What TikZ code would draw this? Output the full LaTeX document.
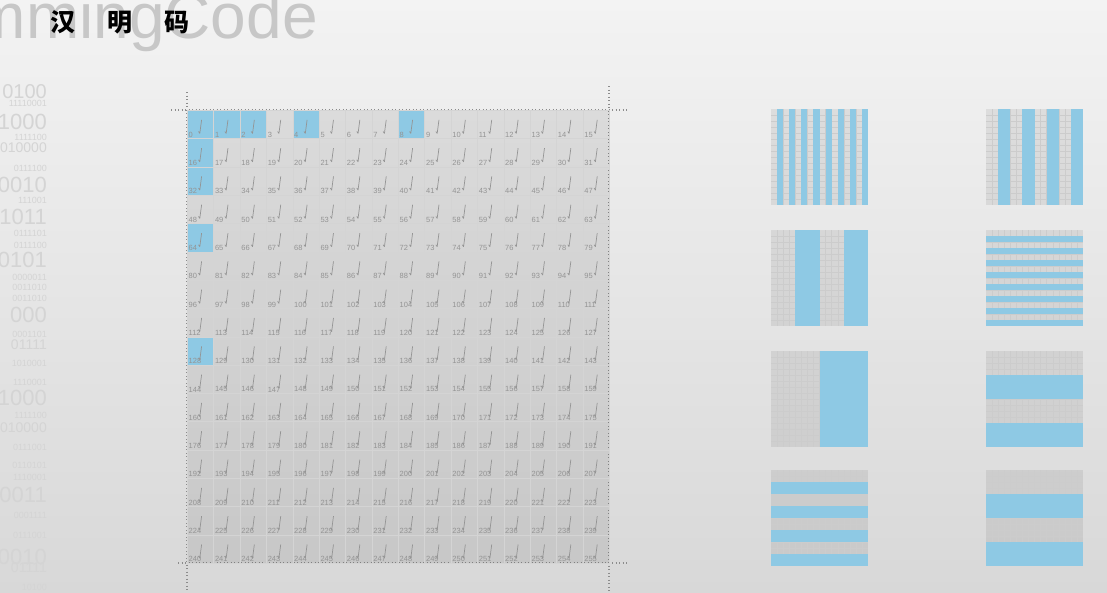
\documentclass[tikz,border=0pt]{standalone}
\usepackage{fontspec}
\setmainfont{Liberation Sans}
\newfontfamily\cjk{Noto Sans CJK SC}
\definecolor{hblue}{RGB}{142,201,228}
\definecolor{paperhi}{RGB}{243,243,243}
\definecolor{paperlo}{RGB}{216,216,216}
\tikzset{
  cellbox/.style={
    draw=black!17,
    fill=black,
    fill opacity=0.08,
    minimum width=26.375pt,
    minimum height=28.31pt,
    inner sep=0pt,
    line width=0.6pt
  },
  bitcell/.style={
    fill=hblue,
    fill opacity=1
  },
  cellnum/.style={
    anchor=south west,
    inner sep=1.5pt,
    text=black!42,
    font=\fontsize{7.5}{8}\selectfont
  },
  tickmark/.style={
    draw=black!42,
    line width=0.7pt,
    line join=round
  },
  cropline/.style={
    draw=black!45,
    line width=1.3pt,
    dash pattern=on 1.3pt off 2.2pt
  },
  panelgrid/.style={
    draw=black!20,
    line width=0.3pt
  },
  bitstr/.style={
    anchor=east,
    inner sep=0pt,
    text=black!17
  }
}

\begin{document}
\begin{tikzpicture}[x=1pt,y=-1pt]
  \useasboundingbox (0,0) rectangle (1107,592);
  \shade[top color=paperhi,bottom color=paperlo] (0,0) rectangle (1107,592);

  % title and faded background word
  \begin{scope}
    \clip (0,0) rectangle (1107,592);
    \node[font=\fontsize{64}{64}\selectfont,text=black!22,anchor=base east,inner sep=0pt]
      (bgword) at (318,38) {HammingCode};
    % faded bit strings along the left edge
    \foreach \y/\s/\t in {92/20/0100, 103/9/11110001, 122/22/1000, 137/9/1111100,
        148/14/010000, 168/9/0111100, 185/22/0010, 200/9/111001, 217/22/1011,
        233/9/0111101, 245/9/0111100, 260/22/00101, 277/9/0000011, 287/9/0011010,
        298/9/0011010, 315/22/000, 334/9/0001101, 345/14/01111, 363/9/1010001,
        382/9/1110001, 398/22/1000, 415/9/1111100, 428/14/010000, 447/9/0111001,
        465/9/0110101, 477/9/1110001, 495/22/0011, 515/9/0001111, 535/9/0111001,
        557/22/0010, 568/14/01111, 587/9/10100}
      \node[bitstr,font=\fontsize{\s}{\s}\selectfont] (b\y) at (47,\y) {\t};
  \end{scope}
  \node[font=\cjk\bfseries\fontsize{25}{25}\selectfont,anchor=west,inner sep=0pt]
    (title) at (50,22) {汉\hspace{32pt}明\hspace{32pt}码};

  % crop marks round the grid
  \draw[cropline] (187,92) -- (187,592);
  \draw[cropline] (609,86) -- (609,592);
  \draw[cropline] (171,110) -- (627,110);
  \draw[cropline] (178,563) -- (627,563);

  % 16 x 16 block, parity positions in blue
  \foreach \r in {0,...,15}{
    \foreach \c in {0,...,15}{
      \pgfmathtruncatemacro\n{16*\r+\c}
      \pgfmathtruncatemacro\isbit{(\n==0)||(\n==1)||(\n==2)||(\n==4)||(\n==8)||(\n==16)||(\n==32)||(\n==64)||(\n==128)}
      \pgfmathsetmacro\cx{187+\c*26.375}
      \pgfmathsetmacro\cy{110+\r*28.3125}
      \ifnum\isbit=1 \tikzset{cellstate/.style={bitcell}}\else\tikzset{cellstate/.style={}}\fi
      \node[cellbox,cellstate,anchor=north west] (c\n) at (\cx,\cy) {};
      \node[cellnum] (n\n) at (c\n.south west) {\n};
      \draw[tickmark] (\cx+11.5,\cy+21.5) -- (\cx+12.8,\cy+23.4) -- (\cx+14.6,\cy+9.8);
    }
  }

  % parity check patterns
  \foreach \px/\py/\dir/\b in {771/109/v/1, 986/109/v/2, 771/230/v/4, 986/230/h/1,
      771/351/v/8, 986/351/h/4, 771/470/h/2, 986/470/h/4}{
    \fill[black,opacity=0.07] (\px,\py) rectangle ++(97,96);
    \foreach \k in {1,...,15}{
      \draw[panelgrid] (\px+\k*6.0625,\py) -- ++(0,96);
      \draw[panelgrid] (\px,\py+\k*6) -- ++(97,0);
    }
    \foreach \k in {0,...,15}{
      \pgfmathtruncatemacro\on{mod(floor(\k/\b),2)}
      \ifnum\on=1
        \if\dir v
          \fill[hblue] (\px+\k*6.0625,\py) rectangle ++(6.0625,96);
        \else
          \fill[hblue] (\px,\py+\k*6) rectangle ++(97,6);
        \fi
      \fi
    }
  }
\end{tikzpicture}
\end{document}
